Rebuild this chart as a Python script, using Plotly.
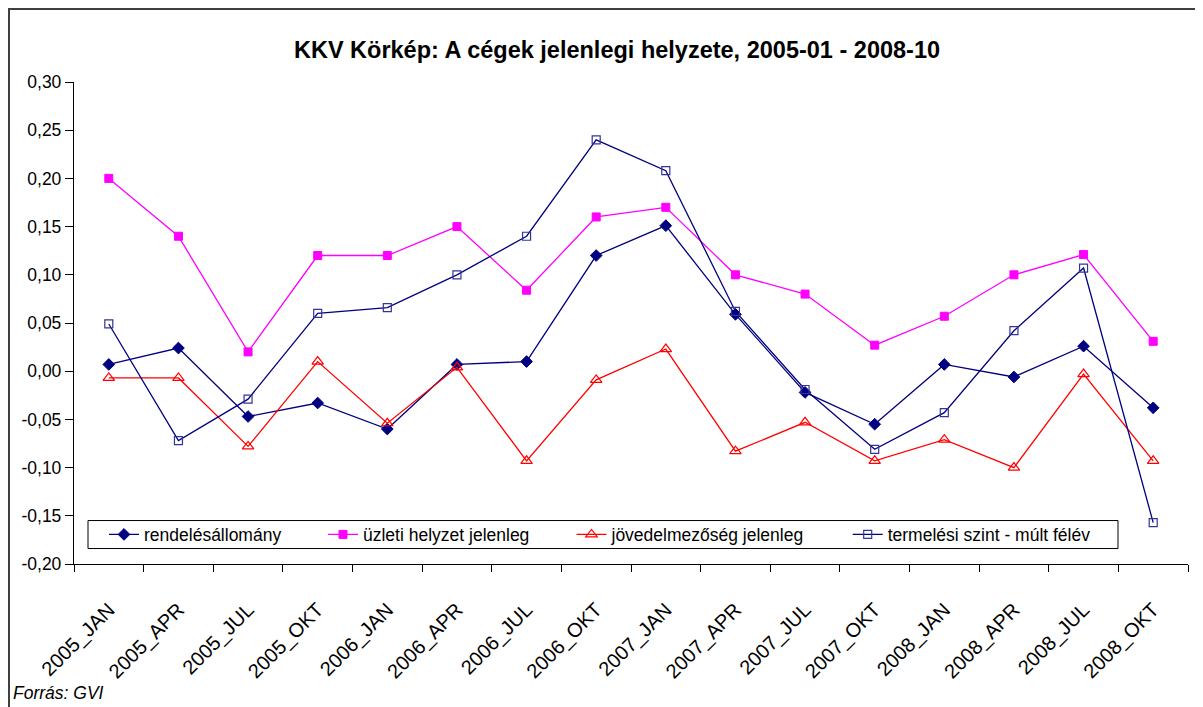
import plotly.graph_objects as go

categories = ["2005_JAN", "2005_APR", "2005_JUL", "2005_OKT",
              "2006_JAN", "2006_APR", "2006_JUL", "2006_OKT",
              "2007_JAN", "2007_APR", "2007_JUL", "2007_OKT",
              "2008_JAN", "2008_APR", "2008_JUL", "2008_OKT"]

rendeles = [0.007, 0.024, -0.047, -0.033, -0.060, 0.007, 0.010, 0.120,
            0.151, 0.059, -0.022, -0.055, 0.007, -0.006, 0.026, -0.038]
uzleti = [0.200, 0.140, 0.020, 0.120, 0.120, 0.150, 0.084, 0.160,
          0.170, 0.100, 0.080, 0.027, 0.057, 0.100, 0.121, 0.031]
jovedelem = [-0.007, -0.007, -0.078, 0.010, -0.054, 0.004, -0.093, -0.009,
             0.023, -0.083, -0.053, -0.093, -0.071, -0.100, -0.003, -0.093]
termeles = [0.049, -0.072, -0.029, 0.060, 0.066, 0.100, 0.140, 0.240,
            0.208, 0.062, -0.019, -0.081, -0.043, 0.042, 0.107, -0.157]

series_names = ["rendelésállomány", "üzleti helyzet jelenleg",
                "jövedelmezőség jelenleg", "termelési szint - múlt félév"]

y_tickvals = [0.30, 0.25, 0.20, 0.15, 0.10, 0.05, 0.0, -0.05, -0.10, -0.15, -0.20]
y_ticktext = ["0,30", "0,25", "0,20", "0,15", "0,10", "0,05", "0,00",
              "-0,05", "-0,10", "-0,15", "-0,20"]

title_text = "KKV Körkép: A cégek jelenlegi helyzete, 2005-01 - 2008-10"
source_text = "Forrás: GVI"

W, H = 1203, 707
OFF = 8  # page body margin in the screenshot
ML, MR, MT, MB = 66, 23, 74, 150.5
PW = W - ML - MR
PH = H - MT - MB


def px_x(sx):
    return (sx - OFF - ML) / PW


def px_y(sy):
    return (H - MB - (sy - OFF)) / PH


FONT = "Liberation Sans, Arial, sans-serif"

fig = go.Figure()

styles = [
    dict(line=dict(color="#000080", width=1.3),
         marker=dict(symbol="diamond", size=9, color="#000080",
                     line=dict(color="#000080", width=1))),
    dict(line=dict(color="#FF00FF", width=1.3),
         marker=dict(symbol="square", size=8, color="#FF00FF",
                     line=dict(color="#FF00FF", width=1))),
    dict(line=dict(color="#FF0000", width=1.3),
         marker=dict(symbol="triangle-up-open", size=10, color="#FF0000",
                     line=dict(color="#FF0000", width=1.2))),
    dict(line=dict(color="#000080", width=1.3),
         marker=dict(symbol="square-open", size=8, color="#333399",
                     line=dict(color="#333399", width=1.2))),
]
values = [rendeles, uzleti, jovedelem, termeles]
legend_ids = ["legend", "legend2", "legend3", "legend4"]

for name, vals, st, lg in zip(series_names, values, styles, legend_ids):
    fig.add_trace(go.Scatter(x=categories, y=vals, name=name, mode="lines+markers",
                             legend=lg, **st))

text_starts = [144, 363, 611.5, 887.7]
legend_common = dict(orientation="h", bgcolor="rgba(0,0,0,0)", borderwidth=0,
                     font=dict(family=FONT, size=17.5, color="#000000"),
                     xanchor="left", yanchor="middle", y=px_y(535),
                     tracegroupgap=0, itemclick=False)
legend_layout = {}
for lg, ts in zip(legend_ids, text_starts):
    legend_layout[lg] = dict(x=px_x(ts - 40), **legend_common)

fig.update_layout(
    width=W, height=H,
    margin=dict(l=ML, r=MR, t=MT, b=MB),
    paper_bgcolor="white", plot_bgcolor="white",
    font=dict(family=FONT, size=16, color="#000000"),
    title=dict(text="<b>" + title_text + "</b>", x=(617 - OFF) / W, xref="container",
               xanchor="center", y=1 - (50 - OFF) / H, yanchor="middle",
               font=dict(family=FONT, size=23.5, color="#000000")),
    showlegend=True,
    **legend_layout,
)

fig.update_xaxes(
    type="category", range=[-0.5, len(categories) - 0.5],
    showline=True, linecolor="#000000", linewidth=1.3,
    ticks="outside", tickson="boundaries", ticklen=7, tickcolor="#000000", tickwidth=1.3,
    tickangle=-45, tickfont=dict(family=FONT, size=20, color="#000000"),
    ticklabelshift=0, ticklabelstandoff=25,
    showgrid=False, zeroline=False, fixedrange=True,
)
fig.update_yaxes(
    range=[-0.2, 0.3], tickvals=y_tickvals, ticktext=y_ticktext,
    showline=True, linecolor="#000000", linewidth=1.3,
    ticks="outside", ticklen=8, tickcolor="#000000", tickwidth=1.3,
    tickfont=dict(family=FONT, size=17.5, color="#000000"),
    showgrid=False, zeroline=False, fixedrange=True,
)

# outer chart border and legend frame
fig.add_shape(type="rect", xref="paper", yref="paper",
              x0=px_x(9), x1=px_x(1230), y0=px_y(740), y1=px_y(9),
              line=dict(color="#404040", width=2), fillcolor="rgba(0,0,0,0)", layer="below")
fig.add_shape(type="rect", xref="paper", yref="paper",
              x0=px_x(88), x1=px_x(1118), y0=px_y(549), y1=px_y(521),
              line=dict(color="#000000", width=1), fillcolor="white", layer="below")

fig.add_annotation(text="<i>" + source_text + "</i>", xref="paper", yref="paper",
                   x=px_x(11), y=px_y(694), xanchor="left", yanchor="middle",
                   showarrow=False, font=dict(family=FONT, size=17.5, color="#000000"))

fig.write_html("out.html")
